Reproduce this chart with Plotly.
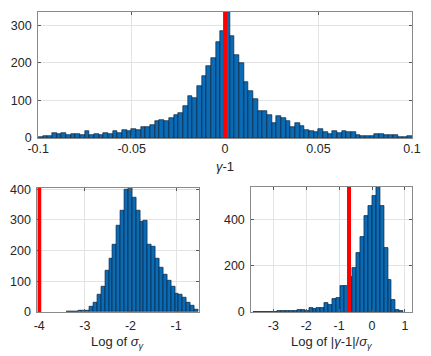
import plotly.graph_objects as go

# ---------------- data ----------------
gamma_bin_start = -0.1
gamma_bin_width = 0.0025
gamma_counts = [4, 6, 6, 13, 11, 12, 9, 10, 10, 9, 18, 9, 11, 9, 14, 11, 18, 13, 20, 19,
                23, 20, 29, 30, 35, 44, 49, 45, 52, 60, 67, 86, 111, 107, 137, 166, 192, 212, 256, 284,
                335, 272, 220, 200, 150, 126, 103, 73, 71, 62, 40, 59, 54, 44, 30, 41, 32, 21, 18, 15,
                24, 17, 11, 19, 14, 18, 17, 17, 9, 5, 5, 5, 10, 10, 9, 7, 7, 4, 4, 6]
gamma_ref = 0.0

sigma_bin_start = -3.405
sigma_bin_width = 0.085
sigma_counts = [1, 1, 2, 3, 4, 5, 16, 29, 56, 84, 134, 174, 218, 281, 329, 397, 405, 371, 329, 294,
                297, 218, 213, 174, 145, 121, 103, 82, 61, 56, 48, 29, 21, 8]
sigma_ref = -4.0

ratio_bin_start = -3.6
ratio_bin_width = 0.12
ratio_counts = [1, 1, 2, 1, 2, 2, 3, 4, 3, 4, 5, 7, 7, 5, 17, 15, 17, 18, 39, 31,
                58, 60, 111, 114, 150, 190, 255, 325, 415, 460, 500, 540, 457, 276, 137, 53, 8, 3]
ratio_ref = -0.70

top_xticks = [-0.1, -0.05, 0, 0.05, 0.1]
top_xticktext = ["-0.1", "-0.05", "0", "0.05", "0.1"]
top_yticks = [0, 100, 200, 300]
bl_xticks = [-4, -3, -2, -1]
bl_xticktext = ["-4", "-3", "-2", "-1"]
bl_yticks = [0, 100, 200, 300, 400]
br_xticks = [-3, -2, -1, 0, 1]
br_xticktext = ["-3", "-2", "-1", "0", "1"]
br_yticks = [0, 200, 400]

# ---------------- figure ----------------
W, H = 431, 356
BAR = "#0a6bb4"
EDGE = "#0a2440"
FONT = "Liberation Sans, Arial, sans-serif"


def centers(start, width, counts):
    return [start + width * (i + 0.5) for i in range(len(counts))]


fig = go.Figure()
for counts, start, width, xa, ya in [
    (gamma_counts, gamma_bin_start, gamma_bin_width, "x", "y"),
    (sigma_counts, sigma_bin_start, sigma_bin_width, "x2", "y2"),
    (ratio_counts, ratio_bin_start, ratio_bin_width, "x3", "y3"),
]:
    fig.add_trace(go.Bar(
        x=centers(start, width, counts), y=counts, width=width,
        marker=dict(color=BAR, line=dict(color=EDGE, width=0.7)),
        xaxis=xa, yaxis=ya, showlegend=False, hoverinfo="skip"))


def px_x(a, b):
    return [a / W, b / W]


def px_y(top, bottom):
    return [(H - bottom) / H, (H - top) / H]


axis_common = dict(
    showgrid=True, gridcolor="#e3e3e3", gridwidth=1,
    showline=True, linecolor="#8a8a8a", linewidth=1, mirror="ticks",
    ticks="inside", ticklen=3, tickcolor="#5a5a5a",
    tickfont=dict(family=FONT, size=12.5, color="#262626"),
    zeroline=False, fixedrange=True,
)

fig.update_layout(
    width=W, height=H,
    margin=dict(l=0, r=0, t=0, b=0),
    paper_bgcolor="white", plot_bgcolor="white",
    bargap=0, barmode="overlay",
    xaxis=dict(domain=px_x(28.5, 420.5), range=[-0.1, 0.1], tickvals=top_xticks,
               ticktext=top_xticktext, anchor="y", ticklabelstandoff=-1, **axis_common),
    yaxis=dict(domain=px_y(7.3, 137.7), range=[0, 335], tickvals=top_yticks,
               anchor="x", ticklabelstandoff=3, **axis_common),
    xaxis2=dict(domain=px_x(27.7, 197), range=[-4.04, -0.5], tickvals=bl_xticks,
                ticktext=bl_xticktext, anchor="y2", ticklabelstandoff=2, **axis_common),
    yaxis2=dict(domain=px_y(189, 317.7), range=[0, 405], tickvals=bl_yticks,
                anchor="x2", ticklabelstandoff=3, **axis_common),
    xaxis3=dict(domain=px_x(252, 420.7), range=[-3.67, 1.22], tickvals=br_xticks,
                ticktext=br_xticktext, anchor="y3", ticklabelstandoff=2, **axis_common),
    yaxis3=dict(domain=px_y(188.3, 317.7), range=[0, 540], tickvals=br_yticks,
                anchor="x3", ticklabelstandoff=3, **axis_common),
)

for xr, xv in [("x", gamma_ref), ("x2", sigma_ref), ("x3", ratio_ref)]:
    yr = {"x": "y", "x2": "y2", "x3": "y3"}[xr]
    fig.add_shape(type="line", xref=xr, yref=yr + " domain", x0=xv, x1=xv, y0=0, y1=1,
                  line=dict(color="#ff0000", width=4), layer="above")

labels = [
    ("<i>γ</i>-1", 224.5, 167),
    ("Log of <i>σ</i><sub><i>γ</i></sub>", 112, 349),
    ("Log of |<i>γ</i>-1|/<i>σ</i><sub><i>γ</i></sub>", 336, 349),
]
for text, x, y in labels:
    fig.add_annotation(text=text, x=x / W, y=(H - y) / H, xref="paper", yref="paper",
                       showarrow=False, xanchor="center", yanchor="middle",
                       font=dict(family=FONT, size=13, color="#262626"))

fig.write_html("out.html")
